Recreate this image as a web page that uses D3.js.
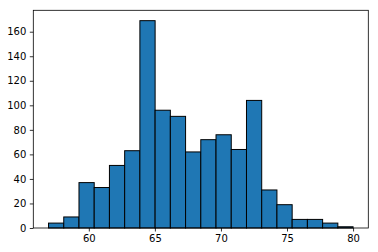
<!DOCTYPE html>
<html>
<head>
<meta charset="utf-8">
<script src="https://cdn.jsdelivr.net/npm/d3@7"></script>
<style>
  html, body { margin: 0; padding: 0; background: #fff; }
  svg { display: block; }
  text { font-family: "DejaVu Sans", sans-serif; font-size: 10px; fill: #000; }
</style>
</head>
<body>
<svg id="chart"></svg>
<script>
// histogram: 20 equal bins between histMin and histMax
const histMin = 56.95;
const histMax = 80.0;
const counts = [4, 9, 37, 33, 51, 63, 169, 96, 91, 62, 72, 76, 64, 104, 31, 19, 7, 7, 4, 1];
const xTicks = [60, 65, 70, 75, 80];
const yTicks = [0, 20, 40, 60, 80, 100, 120, 140, 160];

const W = 378, H = 252;
const margin = { left: 33.3, right: W - 368.3, top: 10.3, bottom: H - 228 };

const svg = d3.select('#chart').attr('width', W).attr('height', H);

const binW = (histMax - histMin) / counts.length;
const bins = counts.map((c, i) => ({ x0: histMin + i * binW, x1: histMin + (i + 1) * binW, n: c }));

// matplotlib-like 5% margins
const pad = (histMax - histMin) * 0.05;
const x = d3.scaleLinear()
  .domain([histMin - pad, histMax + pad])
  .range([margin.left, W - margin.right]);
const y = d3.scaleLinear()
  .domain([0, d3.max(counts) * 1.05])
  .range([H - margin.bottom, margin.top]);

svg.append('g')
  .selectAll('rect')
  .data(bins)
  .join('rect')
  .attr('x', d => x(d.x0))
  .attr('y', d => y(d.n))
  .attr('width', d => x(d.x1) - x(d.x0))
  .attr('height', d => y(0) - y(d.n))
  .attr('fill', '#1f77b4')
  .attr('stroke', '#000')
  .attr('stroke-width', 1);

// axes
const xAxis = svg.append('g')
  .attr('transform', `translate(0,${H - margin.bottom})`)
  .call(d3.axisBottom(x).tickValues(xTicks).tickSize(3.5).tickPadding(3.5).tickFormat(d3.format('d')));
const yAxis = svg.append('g')
  .attr('transform', `translate(${margin.left},0)`)
  .call(d3.axisLeft(y).tickValues(yTicks).tickSize(3.5).tickPadding(3.5).tickFormat(d3.format('d')));

[xAxis, yAxis].forEach(a => {
  a.select('.domain').remove();
  a.selectAll('.tick line').attr('stroke', '#000').attr('stroke-width', 0.8);
  a.selectAll('.tick text').attr('font-size', null).attr('font-family', null).attr('fill', '#000');
});

// spines
svg.append('rect')
  .attr('x', margin.left)
  .attr('y', margin.top)
  .attr('width', W - margin.right - margin.left)
  .attr('height', H - margin.bottom - margin.top)
  .attr('fill', 'none')
  .attr('stroke', '#000')
  .attr('stroke-width', 0.8);
</script>
</body>
</html>
